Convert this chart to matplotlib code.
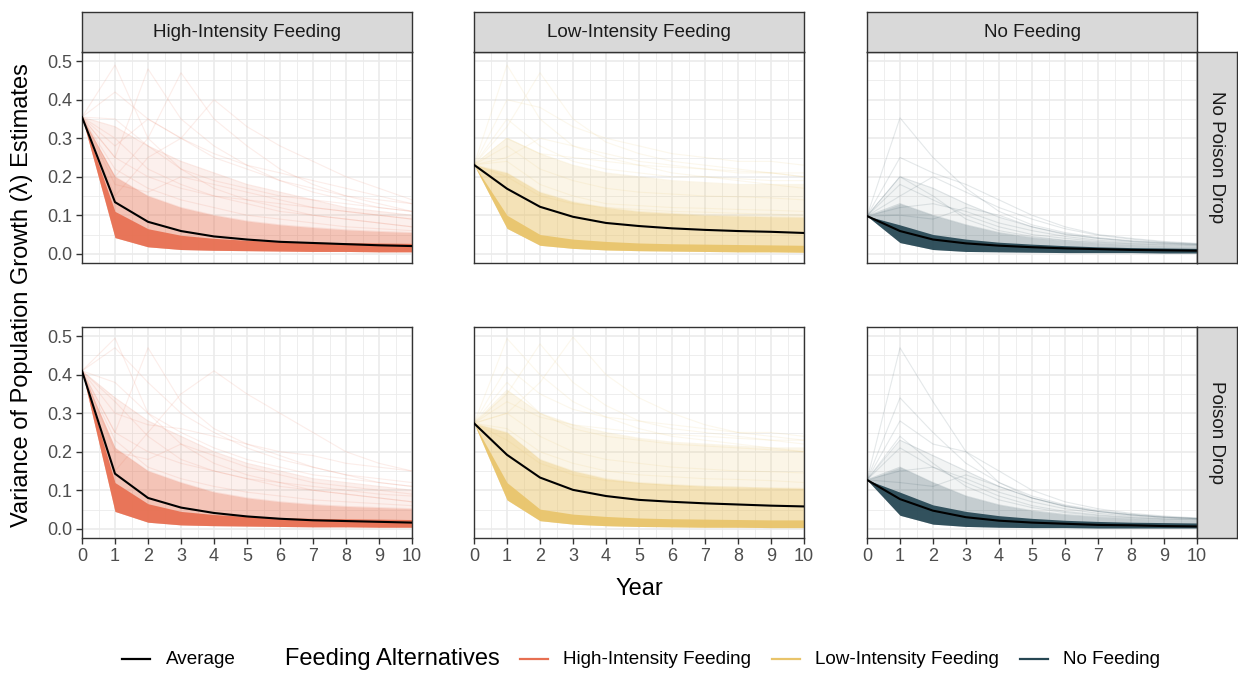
import matplotlib
matplotlib.use("Agg")
import matplotlib.pyplot as plt
from matplotlib.lines import Line2D
from matplotlib.ticker import MultipleLocator

plt.rcParams['font.family'] = ['Liberation Sans', 'DejaVu Sans']

years = list(range(11))
feeding = ['High-Intensity Feeding', 'Low-Intensity Feeding', 'No Feeding']
poison = ['No Poison Drop', 'Poison Drop']
colors = ['#E76F51', '#E9C46A', '#264653']

# values: average line, envelope curves of the simulation cloud
# (lo = bottom of dense band, q1 = top of dense band, q2 = medium, q3 = light)
# and some individual faint runs that stand out
hi_np_avg = [0.355, 0.134, 0.083, 0.059, 0.045, 0.037, 0.031, 0.028, 0.025, 0.022, 0.020]
hi_np_lo = [0.355, 0.042, 0.018, 0.011, 0.009, 0.008, 0.007, 0.006, 0.006, 0.005, 0.005]
hi_np_q1 = [0.355, 0.110, 0.065, 0.048, 0.040, 0.035, 0.032, 0.030, 0.029, 0.028, 0.027]
hi_np_q2 = [0.355, 0.200, 0.150, 0.120, 0.100, 0.085, 0.075, 0.068, 0.062, 0.058, 0.055]
hi_np_q3 = [0.355, 0.330, 0.280, 0.240, 0.210, 0.180, 0.160, 0.140, 0.120, 0.110, 0.100]
hi_np_runs = [[0.355, 0.490, 0.300, 0.220, 0.170, 0.140, 0.120, 0.100, 0.090, 0.080, 0.070],
              [0.355, 0.250, 0.480, 0.350, 0.280, 0.230, 0.190, 0.160, 0.140, 0.120, 0.110],
              [0.355, 0.200, 0.300, 0.470, 0.350, 0.280, 0.220, 0.180, 0.150, 0.130, 0.110],
              [0.355, 0.150, 0.250, 0.300, 0.400, 0.330, 0.280, 0.240, 0.200, 0.170, 0.140],
              [0.355, 0.420, 0.350, 0.300, 0.260, 0.230, 0.210, 0.190, 0.170, 0.150, 0.130],
              [0.355, 0.300, 0.220, 0.180, 0.150, 0.130, 0.110, 0.100, 0.090, 0.080, 0.070],
              [0.355, 0.350, 0.280, 0.220, 0.190, 0.170, 0.150, 0.140, 0.130, 0.120, 0.110],
              [0.355, 0.250, 0.200, 0.170, 0.150, 0.140, 0.130, 0.120, 0.110, 0.100, 0.090],
              [0.355, 0.180, 0.160, 0.200, 0.180, 0.160, 0.140, 0.120, 0.110, 0.100, 0.090],
              [0.355, 0.220, 0.170, 0.140, 0.120, 0.100, 0.090, 0.080, 0.070, 0.065, 0.060],
              [0.355, 0.280, 0.350, 0.300, 0.250, 0.220, 0.190, 0.170, 0.150, 0.140, 0.130]]

hi_p_avg = [0.410, 0.143, 0.080, 0.055, 0.041, 0.032, 0.026, 0.022, 0.020, 0.018, 0.016]
hi_p_lo = [0.410, 0.045, 0.017, 0.010, 0.008, 0.007, 0.006, 0.005, 0.005, 0.004, 0.004]
hi_p_q1 = [0.410, 0.120, 0.065, 0.045, 0.037, 0.032, 0.029, 0.027, 0.026, 0.025, 0.024]
hi_p_q2 = [0.410, 0.210, 0.150, 0.120, 0.095, 0.080, 0.070, 0.063, 0.058, 0.055, 0.052]
hi_p_q3 = [0.410, 0.340, 0.280, 0.240, 0.200, 0.170, 0.150, 0.130, 0.120, 0.110, 0.100]
hi_p_runs = [[0.410, 0.495, 0.300, 0.220, 0.170, 0.140, 0.120, 0.100, 0.090, 0.080, 0.070],
             [0.410, 0.470, 0.380, 0.300, 0.250, 0.210, 0.180, 0.160, 0.140, 0.130, 0.120],
             [0.410, 0.250, 0.470, 0.330, 0.260, 0.220, 0.190, 0.160, 0.140, 0.120, 0.110],
             [0.410, 0.150, 0.250, 0.350, 0.410, 0.350, 0.300, 0.250, 0.200, 0.170, 0.150],
             [0.410, 0.300, 0.270, 0.260, 0.240, 0.220, 0.200, 0.190, 0.170, 0.160, 0.150],
             [0.410, 0.330, 0.240, 0.180, 0.150, 0.130, 0.110, 0.100, 0.090, 0.080, 0.070],
             [0.410, 0.250, 0.200, 0.170, 0.150, 0.130, 0.120, 0.110, 0.100, 0.090, 0.085],
             [0.410, 0.200, 0.180, 0.220, 0.190, 0.160, 0.140, 0.120, 0.110, 0.100, 0.090],
             [0.410, 0.380, 0.300, 0.250, 0.210, 0.180, 0.160, 0.140, 0.130, 0.120, 0.110],
             [0.410, 0.230, 0.160, 0.130, 0.110, 0.095, 0.085, 0.075, 0.070, 0.065, 0.060]]

li_np_avg = [0.231, 0.169, 0.122, 0.096, 0.080, 0.072, 0.066, 0.062, 0.059, 0.057, 0.054]
li_np_lo = [0.231, 0.066, 0.022, 0.014, 0.010, 0.008, 0.007, 0.006, 0.005, 0.005, 0.004]
li_np_q1 = [0.231, 0.100, 0.050, 0.038, 0.032, 0.028, 0.026, 0.025, 0.024, 0.023, 0.022]
li_np_q2 = [0.231, 0.210, 0.160, 0.135, 0.120, 0.110, 0.105, 0.100, 0.098, 0.096, 0.095]
li_np_q3 = [0.231, 0.300, 0.260, 0.230, 0.210, 0.200, 0.190, 0.185, 0.180, 0.180, 0.180]
li_np_runs = [[0.231, 0.490, 0.350, 0.280, 0.250, 0.230, 0.210, 0.200, 0.190, 0.180, 0.170],
              [0.231, 0.330, 0.470, 0.350, 0.290, 0.260, 0.240, 0.230, 0.220, 0.210, 0.200],
              [0.231, 0.400, 0.380, 0.330, 0.300, 0.280, 0.260, 0.250, 0.240, 0.240, 0.230],
              [0.231, 0.250, 0.300, 0.280, 0.260, 0.240, 0.230, 0.220, 0.210, 0.210, 0.200],
              [0.231, 0.280, 0.220, 0.190, 0.170, 0.160, 0.155, 0.150, 0.148, 0.145, 0.140],
              [0.231, 0.240, 0.180, 0.150, 0.130, 0.125, 0.120, 0.118, 0.115, 0.113, 0.110],
              [0.231, 0.350, 0.280, 0.240, 0.220, 0.210, 0.200, 0.200, 0.195, 0.190, 0.190],
              [0.231, 0.200, 0.150, 0.130, 0.120, 0.115, 0.110, 0.108, 0.105, 0.103, 0.100],
              [0.231, 0.300, 0.260, 0.250, 0.240, 0.230, 0.225, 0.220, 0.215, 0.210, 0.210]]

li_p_avg = [0.274, 0.192, 0.133, 0.101, 0.085, 0.075, 0.070, 0.066, 0.063, 0.060, 0.058]
li_p_lo = [0.274, 0.075, 0.021, 0.012, 0.008, 0.006, 0.005, 0.004, 0.004, 0.003, 0.003]
li_p_q1 = [0.274, 0.120, 0.051, 0.038, 0.032, 0.028, 0.026, 0.025, 0.024, 0.023, 0.023]
li_p_q2 = [0.274, 0.250, 0.180, 0.150, 0.130, 0.120, 0.115, 0.110, 0.108, 0.106, 0.105]
li_p_q3 = [0.274, 0.360, 0.300, 0.270, 0.250, 0.235, 0.225, 0.220, 0.215, 0.210, 0.210]
li_p_runs = [[0.274, 0.494, 0.400, 0.330, 0.290, 0.260, 0.240, 0.230, 0.220, 0.210, 0.200],
             [0.274, 0.350, 0.480, 0.380, 0.320, 0.280, 0.260, 0.250, 0.240, 0.230, 0.220],
             [0.274, 0.300, 0.380, 0.498, 0.400, 0.340, 0.300, 0.270, 0.250, 0.240, 0.230],
             [0.274, 0.420, 0.350, 0.310, 0.290, 0.280, 0.270, 0.260, 0.250, 0.250, 0.240],
             [0.274, 0.300, 0.240, 0.200, 0.180, 0.170, 0.160, 0.155, 0.150, 0.148, 0.145],
             [0.274, 0.260, 0.200, 0.170, 0.150, 0.140, 0.135, 0.130, 0.128, 0.125, 0.120],
             [0.274, 0.380, 0.300, 0.260, 0.240, 0.230, 0.220, 0.215, 0.210, 0.205, 0.200],
             [0.274, 0.230, 0.170, 0.140, 0.125, 0.118, 0.112, 0.110, 0.108, 0.105, 0.102],
             [0.274, 0.330, 0.290, 0.270, 0.260, 0.250, 0.245, 0.240, 0.235, 0.230, 0.230]]

nf_np_avg = [0.098, 0.059, 0.037, 0.027, 0.021, 0.017, 0.014, 0.012, 0.010, 0.009, 0.008]
nf_np_lo = [0.098, 0.029, 0.011, 0.006, 0.005, 0.004, 0.003, 0.003, 0.003, 0.002, 0.002]
nf_np_q1 = [0.098, 0.075, 0.050, 0.038, 0.030, 0.025, 0.021, 0.018, 0.016, 0.015, 0.014]
nf_np_q2 = [0.098, 0.130, 0.100, 0.075, 0.055, 0.042, 0.034, 0.028, 0.024, 0.021, 0.019]
nf_np_q3 = [0.098, 0.200, 0.170, 0.130, 0.095, 0.070, 0.052, 0.040, 0.032, 0.027, 0.024]
nf_np_runs = [[0.098, 0.353, 0.250, 0.170, 0.110, 0.075, 0.055, 0.042, 0.034, 0.029, 0.025],
              [0.098, 0.250, 0.210, 0.180, 0.140, 0.100, 0.070, 0.050, 0.040, 0.032, 0.027],
              [0.098, 0.150, 0.200, 0.160, 0.120, 0.090, 0.065, 0.048, 0.038, 0.030, 0.026],
              [0.098, 0.180, 0.140, 0.100, 0.070, 0.050, 0.040, 0.032, 0.027, 0.024, 0.022],
              [0.098, 0.120, 0.130, 0.110, 0.080, 0.060, 0.045, 0.035, 0.030, 0.026, 0.023],
              [0.098, 0.200, 0.150, 0.090, 0.060, 0.045, 0.035, 0.030, 0.026, 0.023, 0.021],
              [0.098, 0.100, 0.090, 0.120, 0.100, 0.070, 0.050, 0.040, 0.033, 0.028, 0.024]]

nf_p_avg = [0.127, 0.077, 0.047, 0.030, 0.021, 0.016, 0.013, 0.010, 0.009, 0.007, 0.006]
nf_p_lo = [0.127, 0.035, 0.012, 0.006, 0.004, 0.003, 0.003, 0.002, 0.002, 0.002, 0.002]
nf_p_q1 = [0.127, 0.095, 0.062, 0.045, 0.034, 0.027, 0.022, 0.019, 0.017, 0.016, 0.015]
nf_p_q2 = [0.127, 0.160, 0.120, 0.085, 0.062, 0.047, 0.037, 0.031, 0.027, 0.024, 0.022]
nf_p_q3 = [0.127, 0.230, 0.190, 0.150, 0.110, 0.080, 0.060, 0.045, 0.036, 0.030, 0.027]
nf_p_runs = [[0.127, 0.470, 0.330, 0.200, 0.120, 0.080, 0.058, 0.045, 0.036, 0.030, 0.026],
             [0.127, 0.340, 0.250, 0.170, 0.120, 0.085, 0.062, 0.048, 0.038, 0.031, 0.027],
             [0.127, 0.280, 0.220, 0.200, 0.150, 0.100, 0.070, 0.052, 0.040, 0.033, 0.028],
             [0.127, 0.210, 0.160, 0.120, 0.085, 0.060, 0.045, 0.036, 0.030, 0.026, 0.024],
             [0.127, 0.150, 0.160, 0.130, 0.095, 0.070, 0.052, 0.040, 0.033, 0.028, 0.025],
             [0.127, 0.240, 0.170, 0.110, 0.075, 0.055, 0.042, 0.034, 0.029, 0.025, 0.023],
             [0.127, 0.120, 0.110, 0.140, 0.110, 0.080, 0.058, 0.045, 0.036, 0.030, 0.026]]

panels = {
    (0, 0): (hi_np_avg, hi_np_lo, hi_np_q1, hi_np_q2, hi_np_q3, hi_np_runs),
    (1, 0): (hi_p_avg, hi_p_lo, hi_p_q1, hi_p_q2, hi_p_q3, hi_p_runs),
    (0, 1): (li_np_avg, li_np_lo, li_np_q1, li_np_q2, li_np_q3, li_np_runs),
    (1, 1): (li_p_avg, li_p_lo, li_p_q1, li_p_q2, li_p_q3, li_p_runs),
    (0, 2): (nf_np_avg, nf_np_lo, nf_np_q1, nf_np_q2, nf_np_q3, nf_np_runs),
    (1, 2): (nf_p_avg, nf_p_lo, nf_p_q1, nf_p_q2, nf_p_q3, nf_p_runs),
}
# (light, medium) fill alpha per colour: the pale yellow needs more, the dark blue less
cloud_alpha = [(0.10, 0.34), (0.16, 0.38), (0.06, 0.22)]

W, H = 1238, 673
fig = plt.figure(figsize=(W / 100, H / 100), dpi=100)

col_left = [82, 474, 867]
row_top = [52, 327]
pw, ph = 330, 211
border = '#333333'


def fig_rect(x, y, w, h):
    # pixel box (top-left origin) -> figure fraction
    return [x / W, (H - y - h) / H, w / W, h / H]


for (r, c), (avg, lo, q1, q2, q3, runs) in panels.items():
    ax = fig.add_axes(fig_rect(col_left[c], row_top[r], pw, ph))
    col = colors[c]
    a_light, a_mid = cloud_alpha[c]
    ax.fill_between(years, lo, q3, color=col, alpha=a_light, lw=0)
    ax.fill_between(years, lo, q2, color=col, alpha=a_mid, lw=0)
    ax.fill_between(years, lo, q1, color=col, alpha=0.92, lw=0)
    for run in runs:
        ax.plot(years, run, color=col, alpha=0.12, lw=0.8)
    for curve in (q2, q3):
        ax.plot(years, curve, color=col, alpha=0.15, lw=0.8)
    ax.plot(years, avg, color='black', lw=1.5, zorder=5)

    ax.set_xlim(0, 10)
    ax.set_ylim(-0.024, 0.524)
    ax.xaxis.set_major_locator(MultipleLocator(1))
    ax.xaxis.set_minor_locator(MultipleLocator(0.5))
    ax.yaxis.set_major_locator(MultipleLocator(0.1))
    ax.yaxis.set_minor_locator(MultipleLocator(0.05))
    ax.set_axisbelow(True)
    ax.grid(which='major', color='#EBEBEB', lw=1.2)
    ax.grid(which='minor', color='#EBEBEB', lw=0.6)
    for s in ax.spines.values():
        s.set_color(border)
        s.set_linewidth(1.0)
    ax.tick_params(which='minor', length=0)
    ax.tick_params(which='major', length=4, width=1, color=border,
                   labelsize=13, labelcolor='#4D4D4D', pad=3)
    if c == 0:
        ax.set_yticklabels([f'{v:.1f}' for v in ax.get_yticks()])
    else:
        ax.tick_params(axis='y', length=0, labelleft=False)
    if r == 0:
        ax.tick_params(axis='x', length=0, labelbottom=False)

# column strips
for c, name in enumerate(feeding):
    sa = fig.add_axes(fig_rect(col_left[c], 12, pw, 40))
    sa.set_facecolor('#D9D9D9')
    sa.set_xticks([])
    sa.set_yticks([])
    for s in sa.spines.values():
        s.set_color(border)
        s.set_linewidth(1.0)
    sa.text(0.5, 0.48, name, ha='center', va='center', fontsize=13.6, color='#1A1A1A',
            transform=sa.transAxes)

# row strips
for r, name in enumerate(poison):
    sa = fig.add_axes(fig_rect(1197, row_top[r], 40, ph))
    sa.set_facecolor('#D9D9D9')
    sa.set_xticks([])
    sa.set_yticks([])
    for s in sa.spines.values():
        s.set_color(border)
        s.set_linewidth(1.0)
    sa.text(0.5, 0.5, name, ha='center', va='center', fontsize=13.6, color='#1A1A1A',
            rotation=-90, transform=sa.transAxes)

fig.text(22 / W, 1 - 295 / H, 'Variance of Population Growth (λ) Estimates', rotation=90,
         ha='center', va='center', fontsize=17, color='black')
fig.text(639 / W, 1 - 589 / H, 'Year', ha='center', va='center', fontsize=17, color='black')

# legend along the bottom
ly = 1 - 659 / H
keys = [(122, 166, 'Average', 'black'),
        (520, 563, feeding[0], colors[0]),
        (772, 815, feeding[1], colors[1]),
        (1020, 1063, feeding[2], colors[2])]
for x0, xt, label, col in keys:
    fig.add_artist(Line2D([x0 / W, (x0 + 28) / W], [ly, ly], color=col, lw=1.6,
                          transform=fig.transFigure))
    fig.text(xt / W, ly, label, ha='left', va='center', fontsize=13.6, color='black')
fig.text(285 / W, ly, 'Feeding Alternatives', ha='left', va='center', fontsize=17,
         color='black')

fig.savefig('out.png', dpi=100)
